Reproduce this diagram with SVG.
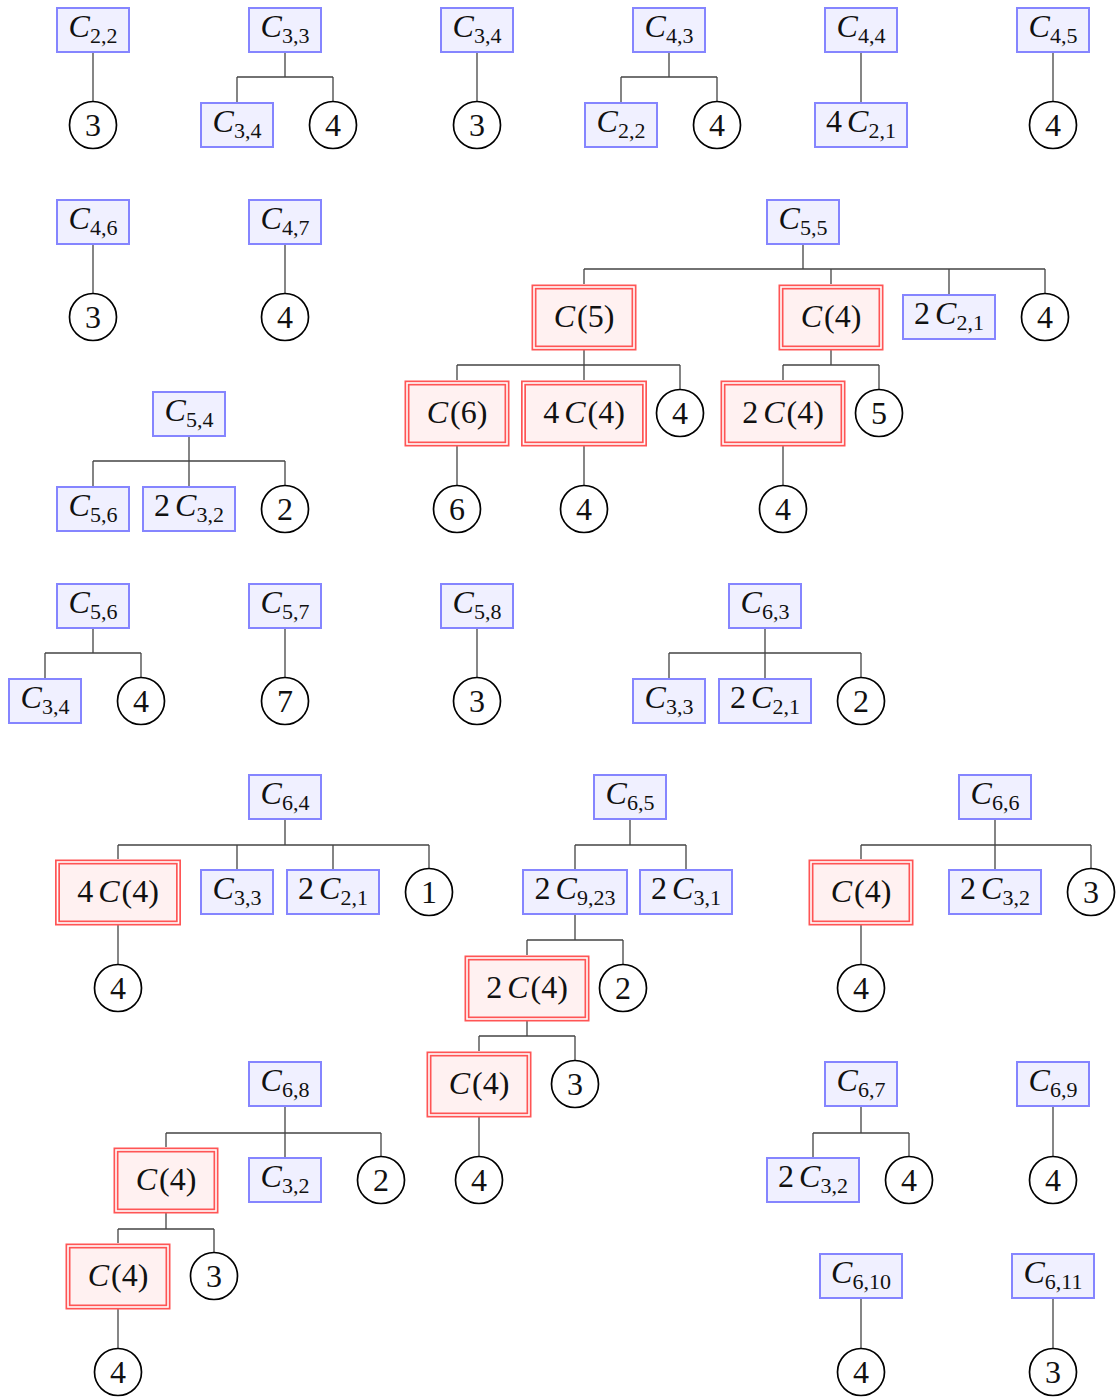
<svg xmlns="http://www.w3.org/2000/svg" width="1119" height="1400" viewBox="0 0 1119 1400">
<style>
.b{fill:#f0f0ff;stroke:#8585ff;stroke-width:2}
.r1{fill:#fff1f1;stroke:#ff5555;stroke-width:5}
.r2{fill:none;stroke:#fff;stroke-width:1.6}
.c{fill:#fff;stroke:#000;stroke-width:1.7}
.t{font-family:"Liberation Serif",serif;font-size:32px;text-anchor:middle;fill:#111}
.i{font-style:italic}
.s{font-size:22px}
.e{fill:none;stroke:#444;stroke-width:1.3}
</style>
<g id="connectors" class="e">
<path d="M93 53V101"/>
<path d="M285 53V77M237 77H333M237 77V102M333 77V101"/>
<path d="M477 53V101"/>
<path d="M669 53V77M621 77H717M621 77V102M717 77V101"/>
<path d="M861 53V102"/>
<path d="M1053 53V101"/>
<path d="M93 245V293"/>
<path d="M285 245V293"/>
<path d="M803 245V269M584 269H1045M584 269V284M831 269V284M949 269V294M1045 269V293"/>
<path d="M584 350V365M457 365H680M457 365V380M584 365V380M680 365V389"/>
<path d="M457 446V485"/>
<path d="M584 446V485"/>
<path d="M831 350V365M783 365H879M783 365V380M879 365V389"/>
<path d="M783 446V485"/>
<path d="M189 436V461M93 461H285M93 461V486M189 461V486M285 461V485"/>
<path d="M93 629V653M45 653H141M45 653V678M141 653V677"/>
<path d="M285 629V677"/>
<path d="M477 629V677"/>
<path d="M765 629V653M669 653H861M669 653V678M765 653V678M861 653V677"/>
<path d="M285 820V845M118 845H429M118 845V859M237 845V869M333 845V869M429 845V868"/>
<path d="M118 925V964"/>
<path d="M630 820V845M575 845H686M575 845V869M686 845V869"/>
<path d="M575 915V940M527 940H623M527 940V955M623 940V964"/>
<path d="M527 1021V1036M479 1036H575M479 1036V1051M575 1036V1060"/>
<path d="M479 1117V1156"/>
<path d="M995 820V845M861 845H1091M861 845V859M995 845V869M1091 845V868"/>
<path d="M861 925V964"/>
<path d="M285 1107V1133M166 1133H381M166 1133V1147M285 1133V1157M381 1133V1156"/>
<path d="M166 1213V1229M118 1229H214M118 1229V1243M214 1229V1252"/>
<path d="M118 1309V1348"/>
<path d="M861 1107V1133M813 1133H909M813 1133V1157M909 1133V1156"/>
<path d="M1053 1107V1156"/>
<path d="M861 1299V1348"/>
<path d="M1053 1299V1348"/>
</g>

<!-- Row 1 -->
<g id="n_C22_a"><rect class="b" x="57" y="8" width="72" height="44"/><text class="t" x="93" y="37"><tspan class="i">C</tspan><tspan class="s" dy="6">2,2</tspan></text></g>
<g id="n_3_a"><circle class="c" cx="93" cy="125" r="23.5"/><text class="t" x="93" y="136">3</text></g>
<g id="n_C33_a"><rect class="b" x="249" y="8" width="72" height="44"/><text class="t" x="285" y="37"><tspan class="i">C</tspan><tspan class="s" dy="6">3,3</tspan></text></g>
<g id="n_C34_a"><rect class="b" x="201" y="103" width="72" height="44"/><text class="t" x="237" y="132"><tspan class="i">C</tspan><tspan class="s" dy="6">3,4</tspan></text></g>
<g id="n_4_a"><circle class="c" cx="333" cy="125" r="23.5"/><text class="t" x="333" y="136">4</text></g>
<g id="n_C34_b"><rect class="b" x="441" y="8" width="72" height="44"/><text class="t" x="477" y="37"><tspan class="i">C</tspan><tspan class="s" dy="6">3,4</tspan></text></g>
<g id="n_3_b"><circle class="c" cx="477" cy="125" r="23.5"/><text class="t" x="477" y="136">3</text></g>
<g id="n_C43"><rect class="b" x="633" y="8" width="72" height="44"/><text class="t" x="669" y="37"><tspan class="i">C</tspan><tspan class="s" dy="6">4,3</tspan></text></g>
<g id="n_C22_b"><rect class="b" x="585" y="103" width="72" height="44"/><text class="t" x="621" y="132"><tspan class="i">C</tspan><tspan class="s" dy="6">2,2</tspan></text></g>
<g id="n_4_b"><circle class="c" cx="717" cy="125" r="23.5"/><text class="t" x="717" y="136">4</text></g>
<g id="n_C44"><rect class="b" x="825" y="8" width="72" height="44"/><text class="t" x="861" y="37"><tspan class="i">C</tspan><tspan class="s" dy="6">4,4</tspan></text></g>
<g id="n_4C21"><rect class="b" x="815" y="103" width="92" height="44"/><text class="t" x="861" y="132">4<tspan class="i" dx="5">C</tspan><tspan class="s" dy="6">2,1</tspan></text></g>
<g id="n_C45"><rect class="b" x="1017" y="8" width="72" height="44"/><text class="t" x="1053" y="37"><tspan class="i">C</tspan><tspan class="s" dy="6">4,5</tspan></text></g>
<g id="n_4_c"><circle class="c" cx="1053" cy="125" r="23.5"/><text class="t" x="1053" y="136">4</text></g>

<!-- Row 2 -->
<g id="n_C46"><rect class="b" x="57" y="200" width="72" height="44"/><text class="t" x="93" y="229"><tspan class="i">C</tspan><tspan class="s" dy="6">4,6</tspan></text></g>
<g id="n_3_c"><circle class="c" cx="93" cy="317" r="23.5"/><text class="t" x="93" y="328">3</text></g>
<g id="n_C47"><rect class="b" x="249" y="200" width="72" height="44"/><text class="t" x="285" y="229"><tspan class="i">C</tspan><tspan class="s" dy="6">4,7</tspan></text></g>
<g id="n_4_d"><circle class="c" cx="285" cy="317" r="23.5"/><text class="t" x="285" y="328">4</text></g>
<g id="n_C55"><rect class="b" x="767" y="200" width="72" height="44"/><text class="t" x="803" y="229"><tspan class="i">C</tspan><tspan class="s" dy="6">5,5</tspan></text></g>
<g id="n_Cp5"><rect class="r1" x="534" y="287" width="100" height="61"/><rect class="r2" x="534" y="287" width="100" height="61"/><text class="t" x="584" y="327"><tspan class="i">C</tspan><tspan dx="2">(5)</tspan></text></g>
<g id="n_Cp4_a"><rect class="r1" x="781" y="287" width="100" height="61"/><rect class="r2" x="781" y="287" width="100" height="61"/><text class="t" x="831" y="327"><tspan class="i">C</tspan><tspan dx="2">(4)</tspan></text></g>
<g id="n_2C21_a"><rect class="b" x="903" y="295" width="92" height="44"/><text class="t" x="949" y="324">2<tspan class="i" dx="5">C</tspan><tspan class="s" dy="6">2,1</tspan></text></g>
<g id="n_4_e"><circle class="c" cx="1045" cy="317" r="23.5"/><text class="t" x="1045" y="328">4</text></g>
<g id="n_Cp6"><rect class="r1" x="407" y="383" width="100" height="61"/><rect class="r2" x="407" y="383" width="100" height="61"/><text class="t" x="457" y="423"><tspan class="i">C</tspan><tspan dx="2">(6)</tspan></text></g>
<g id="n_4Cp4_a"><rect class="r1" x="523.5" y="383" width="121" height="61"/><rect class="r2" x="523.5" y="383" width="121" height="61"/><text class="t" x="584" y="423">4<tspan class="i" dx="5">C</tspan><tspan dx="2">(4)</tspan></text></g>
<g id="n_4_f"><circle class="c" cx="680" cy="413" r="23.5"/><text class="t" x="680" y="424">4</text></g>
<g id="n_2Cp4_a"><rect class="r1" x="723" y="383" width="120" height="61"/><rect class="r2" x="723" y="383" width="120" height="61"/><text class="t" x="783" y="423">2<tspan class="i" dx="5">C</tspan><tspan dx="2">(4)</tspan></text></g>
<g id="n_5"><circle class="c" cx="879" cy="413" r="23.5"/><text class="t" x="879" y="424">5</text></g>
<g id="n_6"><circle class="c" cx="457" cy="509" r="23.5"/><text class="t" x="457" y="520">6</text></g>
<g id="n_4_g"><circle class="c" cx="584" cy="509" r="23.5"/><text class="t" x="584" y="520">4</text></g>
<g id="n_4_h"><circle class="c" cx="783" cy="509" r="23.5"/><text class="t" x="783" y="520">4</text></g>

<!-- Row 3 -->
<g id="n_C54"><rect class="b" x="153" y="392" width="72" height="44"/><text class="t" x="189" y="421"><tspan class="i">C</tspan><tspan class="s" dy="6">5,4</tspan></text></g>
<g id="n_C56_a"><rect class="b" x="57" y="487" width="72" height="44"/><text class="t" x="93" y="516"><tspan class="i">C</tspan><tspan class="s" dy="6">5,6</tspan></text></g>
<g id="n_2C32_a"><rect class="b" x="143" y="487" width="92" height="44"/><text class="t" x="189" y="516">2<tspan class="i" dx="5">C</tspan><tspan class="s" dy="6">3,2</tspan></text></g>
<g id="n_2_a"><circle class="c" cx="285" cy="509" r="23.5"/><text class="t" x="285" y="520">2</text></g>

<!-- Row 4 -->
<g id="n_C56_b"><rect class="b" x="57" y="584" width="72" height="44"/><text class="t" x="93" y="613"><tspan class="i">C</tspan><tspan class="s" dy="6">5,6</tspan></text></g>
<g id="n_C34_c"><rect class="b" x="9" y="679" width="72" height="44"/><text class="t" x="45" y="708"><tspan class="i">C</tspan><tspan class="s" dy="6">3,4</tspan></text></g>
<g id="n_4_i"><circle class="c" cx="141" cy="701" r="23.5"/><text class="t" x="141" y="712">4</text></g>
<g id="n_C57"><rect class="b" x="249" y="584" width="72" height="44"/><text class="t" x="285" y="613"><tspan class="i">C</tspan><tspan class="s" dy="6">5,7</tspan></text></g>
<g id="n_7"><circle class="c" cx="285" cy="701" r="23.5"/><text class="t" x="285" y="712">7</text></g>
<g id="n_C58"><rect class="b" x="441" y="584" width="72" height="44"/><text class="t" x="477" y="613"><tspan class="i">C</tspan><tspan class="s" dy="6">5,8</tspan></text></g>
<g id="n_3_d"><circle class="c" cx="477" cy="701" r="23.5"/><text class="t" x="477" y="712">3</text></g>
<g id="n_C63"><rect class="b" x="729" y="584" width="72" height="44"/><text class="t" x="765" y="613"><tspan class="i">C</tspan><tspan class="s" dy="6">6,3</tspan></text></g>
<g id="n_C33_b"><rect class="b" x="633" y="679" width="72" height="44"/><text class="t" x="669" y="708"><tspan class="i">C</tspan><tspan class="s" dy="6">3,3</tspan></text></g>
<g id="n_2C21_b"><rect class="b" x="719" y="679" width="92" height="44"/><text class="t" x="765" y="708">2<tspan class="i" dx="5">C</tspan><tspan class="s" dy="6">2,1</tspan></text></g>
<g id="n_2_b"><circle class="c" cx="861" cy="701" r="23.5"/><text class="t" x="861" y="712">2</text></g>

<!-- Row 5 -->
<g id="n_C64"><rect class="b" x="249" y="775" width="72" height="44"/><text class="t" x="285" y="804"><tspan class="i">C</tspan><tspan class="s" dy="6">6,4</tspan></text></g>
<g id="n_4Cp4_b"><rect class="r1" x="57.5" y="862" width="121" height="61"/><rect class="r2" x="57.5" y="862" width="121" height="61"/><text class="t" x="118" y="902">4<tspan class="i" dx="5">C</tspan><tspan dx="2">(4)</tspan></text></g>
<g id="n_C33_c"><rect class="b" x="201" y="870" width="72" height="44"/><text class="t" x="237" y="899"><tspan class="i">C</tspan><tspan class="s" dy="6">3,3</tspan></text></g>
<g id="n_2C21_c"><rect class="b" x="287" y="870" width="92" height="44"/><text class="t" x="333" y="899">2<tspan class="i" dx="5">C</tspan><tspan class="s" dy="6">2,1</tspan></text></g>
<g id="n_1"><circle class="c" cx="429" cy="892" r="23.5"/><text class="t" x="429" y="903">1</text></g>
<g id="n_4_j"><circle class="c" cx="118" cy="988" r="23.5"/><text class="t" x="118" y="999">4</text></g>
<g id="n_C65"><rect class="b" x="594" y="775" width="72" height="44"/><text class="t" x="630" y="804"><tspan class="i">C</tspan><tspan class="s" dy="6">6,5</tspan></text></g>
<g id="n_2C923"><rect class="b" x="523" y="870" width="104" height="44"/><text class="t" x="575" y="899">2<tspan class="i" dx="5">C</tspan><tspan class="s" dy="6">9,23</tspan></text></g>
<g id="n_2C31"><rect class="b" x="640" y="870" width="92" height="44"/><text class="t" x="686" y="899">2<tspan class="i" dx="5">C</tspan><tspan class="s" dy="6">3,1</tspan></text></g>
<g id="n_2Cp4_b"><rect class="r1" x="467" y="958" width="120" height="61"/><rect class="r2" x="467" y="958" width="120" height="61"/><text class="t" x="527" y="998">2<tspan class="i" dx="5">C</tspan><tspan dx="2">(4)</tspan></text></g>
<g id="n_2_c"><circle class="c" cx="623" cy="988" r="23.5"/><text class="t" x="623" y="999">2</text></g>
<g id="n_Cp4_b"><rect class="r1" x="429" y="1054" width="100" height="61"/><rect class="r2" x="429" y="1054" width="100" height="61"/><text class="t" x="479" y="1094"><tspan class="i">C</tspan><tspan dx="2">(4)</tspan></text></g>
<g id="n_3_e"><circle class="c" cx="575" cy="1084" r="23.5"/><text class="t" x="575" y="1095">3</text></g>
<g id="n_4_k"><circle class="c" cx="479" cy="1180" r="23.5"/><text class="t" x="479" y="1191">4</text></g>
<g id="n_C66"><rect class="b" x="959" y="775" width="72" height="44"/><text class="t" x="995" y="804"><tspan class="i">C</tspan><tspan class="s" dy="6">6,6</tspan></text></g>
<g id="n_Cp4_c"><rect class="r1" x="811" y="862" width="100" height="61"/><rect class="r2" x="811" y="862" width="100" height="61"/><text class="t" x="861" y="902"><tspan class="i">C</tspan><tspan dx="2">(4)</tspan></text></g>
<g id="n_2C32_b"><rect class="b" x="949" y="870" width="92" height="44"/><text class="t" x="995" y="899">2<tspan class="i" dx="5">C</tspan><tspan class="s" dy="6">3,2</tspan></text></g>
<g id="n_3_f"><circle class="c" cx="1091" cy="892" r="23.5"/><text class="t" x="1091" y="903">3</text></g>
<g id="n_4_l"><circle class="c" cx="861" cy="988" r="23.5"/><text class="t" x="861" y="999">4</text></g>

<!-- Row 6 -->
<g id="n_C68"><rect class="b" x="249" y="1062" width="72" height="44"/><text class="t" x="285" y="1091"><tspan class="i">C</tspan><tspan class="s" dy="6">6,8</tspan></text></g>
<g id="n_Cp4_d"><rect class="r1" x="116" y="1150" width="100" height="61"/><rect class="r2" x="116" y="1150" width="100" height="61"/><text class="t" x="166" y="1190"><tspan class="i">C</tspan><tspan dx="2">(4)</tspan></text></g>
<g id="n_C32"><rect class="b" x="249" y="1158" width="72" height="44"/><text class="t" x="285" y="1187"><tspan class="i">C</tspan><tspan class="s" dy="6">3,2</tspan></text></g>
<g id="n_2_d"><circle class="c" cx="381" cy="1180" r="23.5"/><text class="t" x="381" y="1191">2</text></g>
<g id="n_Cp4_e"><rect class="r1" x="68" y="1246" width="100" height="61"/><rect class="r2" x="68" y="1246" width="100" height="61"/><text class="t" x="118" y="1286"><tspan class="i">C</tspan><tspan dx="2">(4)</tspan></text></g>
<g id="n_3_g"><circle class="c" cx="214" cy="1276" r="23.5"/><text class="t" x="214" y="1287">3</text></g>
<g id="n_4_m"><circle class="c" cx="118" cy="1372" r="23.5"/><text class="t" x="118" y="1383">4</text></g>
<g id="n_C67"><rect class="b" x="825" y="1062" width="72" height="44"/><text class="t" x="861" y="1091"><tspan class="i">C</tspan><tspan class="s" dy="6">6,7</tspan></text></g>
<g id="n_2C32_c"><rect class="b" x="767" y="1158" width="92" height="44"/><text class="t" x="813" y="1187">2<tspan class="i" dx="5">C</tspan><tspan class="s" dy="6">3,2</tspan></text></g>
<g id="n_4_n"><circle class="c" cx="909" cy="1180" r="23.5"/><text class="t" x="909" y="1191">4</text></g>
<g id="n_C69"><rect class="b" x="1017" y="1062" width="72" height="44"/><text class="t" x="1053" y="1091"><tspan class="i">C</tspan><tspan class="s" dy="6">6,9</tspan></text></g>
<g id="n_4_o"><circle class="c" cx="1053" cy="1180" r="23.5"/><text class="t" x="1053" y="1191">4</text></g>
<g id="n_C610"><rect class="b" x="820" y="1254" width="82" height="44"/><text class="t" x="861" y="1283"><tspan class="i">C</tspan><tspan class="s" dy="6">6,10</tspan></text></g>
<g id="n_4_p"><circle class="c" cx="861" cy="1372" r="23.5"/><text class="t" x="861" y="1383">4</text></g>
<g id="n_C611"><rect class="b" x="1012" y="1254" width="82" height="44"/><text class="t" x="1053" y="1283"><tspan class="i">C</tspan><tspan class="s" dy="6">6,11</tspan></text></g>
<g id="n_3_h"><circle class="c" cx="1053" cy="1372" r="23.5"/><text class="t" x="1053" y="1383">3</text></g>
</svg>
